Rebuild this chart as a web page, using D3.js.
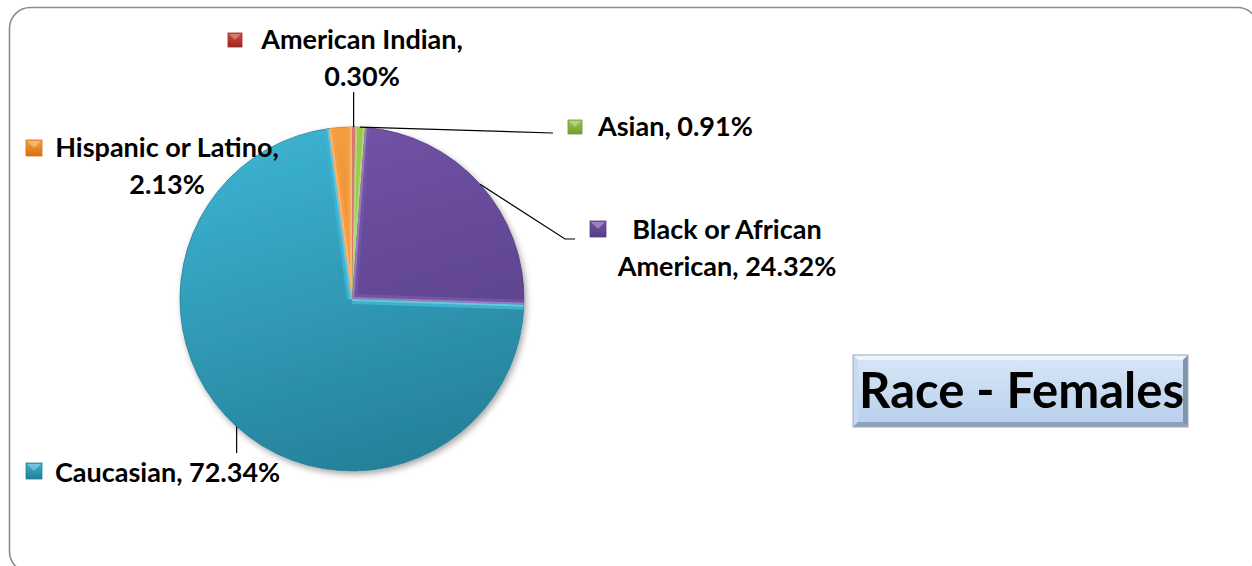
<!DOCTYPE html>
<html>
<head>
<meta charset="utf-8">
<script src="https://cdn.jsdelivr.net/npm/d3@7"></script>
<style>
	body { margin: 0; background: #fff; }
	svg { display: block; }
	.lbl { font-family: "Lato", "Liberation Sans", sans-serif; font-weight: bold; font-size: 27px; fill: #000; }
	.ttl { font-family: "Lato", "Liberation Sans", sans-serif; font-weight: bold; font-size: 49px; fill: #000; }
</style>
</head>
<body>
<svg id="pieChart"></svg>
<script>
// chart values, clockwise from 12 o'clock
const categories = ["American Indian", "Asian", "Black or African American", "Caucasian", "Hispanic or Latino"];
const shares = [0.30, 0.91, 24.32, 72.34, 2.13];
// light / dark shade of each slice
const colorsLight = ["#d04840", "#9cc84e", "#7253a6", "#3bb2d0", "#f59f42"];
const colorsDark = ["#9e2822", "#759c32", "#553c84", "#257f98", "#d87012"];
const titleText = "Race - Females";

function whenDocumentLoaded(action) {
	if (document.readyState === "loading") {
		document.addEventListener("DOMContentLoaded", action);
	} else {
		action();
	}
}

whenDocumentLoaded(() => {
	const width = 1252, height = 566;
	const cx = 352, cy = 299, r = 172;

	const svg = d3.select("#pieChart")
		.attr("width", width)
		.attr("height", height);

	const defs = svg.append("defs");
	defs.append("filter").attr("id", "shadow")
		.attr("x", "-20%").attr("y", "-20%").attr("width", "140%").attr("height", "140%")
		.append("feDropShadow")
		.attr("dx", 2).attr("dy", 3).attr("stdDeviation", 3)
		.attr("flood-color", "#000").attr("flood-opacity", 0.35);

	categories.forEach((c, i) => {
		// gradient in the pie group's own coordinates (centred on 0,0)
		const g = defs.append("linearGradient").attr("id", "grad" + i)
			.attr("gradientUnits", "userSpaceOnUse")
			.attr("x1", -r * 0.3).attr("y1", -r).attr("x2", r * 0.3).attr("y2", r);
		g.append("stop").attr("offset", "0%").attr("stop-color", colorsLight[i]);
		g.append("stop").attr("offset", "100%").attr("stop-color", colorsDark[i]);
		const m = defs.append("linearGradient").attr("id", "mgrad" + i)
			.attr("x1", 0).attr("y1", 0).attr("x2", 0).attr("y2", 1);
		m.append("stop").attr("offset", "0%").attr("stop-color", colorsLight[i]);
		m.append("stop").attr("offset", "100%").attr("stop-color", colorsDark[i]);
	});

	// outer rounded frame
	svg.append("rect")
		.attr("x", 9.5).attr("y", 7.5)
		.attr("width", 1249).attr("height", 565)
		.attr("rx", 21).attr("ry", 21)
		.attr("fill", "#fff")
		.attr("stroke", "#8c8c8c")
		.attr("stroke-width", 1.6);

	const pie = d3.pie().sort(null).value(d => d)(shares);
	const arc = d3.arc().innerRadius(0).outerRadius(r);

	const pieG = svg.append("g")
		.attr("transform", `translate(${cx},${cy})`)
		.attr("filter", "url(#shadow)");

	pieG.selectAll("path.slice")
		.data(pie)
		.enter()
		.append("path")
		.attr("class", "slice")
		.attr("d", arc)
		.attr("fill", (d, i) => `url(#grad${i})`)
		.attr("stroke", (d, i) => colorsDark[i])
		.attr("stroke-width", 0.8);

	// bevel highlight along the straight slice edges
	pie.forEach((d, i) => {
		defs.append("clipPath").attr("id", "clip" + i)
			.append("path").attr("d", arc(d));
		const a0 = d.startAngle, a1 = d.endAngle;
		const edge = `M0,0L${r * Math.sin(a0)},${-r * Math.cos(a0)}M0,0L${r * Math.sin(a1)},${-r * Math.cos(a1)}`;
		pieG.append("path")
			.attr("d", edge)
			.attr("clip-path", `url(#clip${i})`)
			.attr("fill", "none")
			.attr("stroke", colorsLight[i])
			.attr("stroke-width", 10);
		pieG.append("path")
			.attr("d", edge)
			.attr("clip-path", `url(#clip${i})`)
			.attr("fill", "none")
			.attr("stroke", "#ffffff")
			.attr("stroke-opacity", 0.25)
			.attr("stroke-width", 4);
	});

	// label layout: marker box, text anchor, line break and leader line bends
	const layout = [
		{ mx: 228, my: 33, ms: 14, tx: 362, ty: 49, anchor: "middle", breakAt: 2, bends: p => [[p[0], 92]] },
		{ mx: 568, my: 120, ms: 14, tx: 598, ty: 136, anchor: "start", breakAt: 0, bends: () => [[553, 133]] },
		{ mx: 590, my: 221, ms: 16, tx: 727, ty: 239, anchor: "middle", breakAt: 3, bends: () => [[565, 239], [575, 239]] },
		{ mx: 26, my: 463, ms: 16, tx: 55, ty: 482, anchor: "start", breakAt: 0, bends: p => [[p[0], 453]] },
		{ mx: 26, my: 140, ms: 16, tx: 167, ty: 157, anchor: "middle", breakAt: 3, bends: null }
	];
	const lineGap = 37;
	const fmt = d3.format(".2f");

	pie.forEach((d, i) => {
		const L = layout[i];
		const mid = (d.startAngle + d.endAngle) / 2;
		const p = [cx + r * Math.sin(mid), cy - r * Math.cos(mid)];

		if (L.bends) {
			svg.append("path")
				.attr("d", d3.line()([p].concat(L.bends(p))))
				.attr("fill", "none")
				.attr("stroke", "#000")
				.attr("stroke-width", 1.2);
		}

		// marker
		svg.append("rect")
			.attr("x", L.mx).attr("y", L.my)
			.attr("width", L.ms).attr("height", L.ms)
			.attr("fill", `url(#mgrad${i})`)
			.attr("stroke", colorsDark[i]).attr("stroke-width", 0.8);
		svg.append("path")
			.attr("d", `M${L.mx + 1},${L.my + 1}L${L.mx + L.ms - 1},${L.my + 1}L${L.mx + L.ms / 2},${L.my + L.ms * 0.5}Z`)
			.attr("fill", "#fff").attr("fill-opacity", 0.3);

		const words = `${categories[i]}, ${fmt(d.data)}%`.split(" ");
		const lines = L.breakAt ? [words.slice(0, L.breakAt).join(" "), words.slice(L.breakAt).join(" ")] : [words.join(" ")];
		const t = svg.append("text")
			.attr("class", "lbl")
			.attr("text-anchor", L.anchor);
		lines.forEach((s, k) => {
			t.append("tspan").attr("x", L.tx).attr("y", L.ty + k * lineGap).text(s);
		});
	});

	// title box with bevel
	const bx = 853, by = 355, bw = 335, bh = 72, bev = 5;
	const tg = defs.append("linearGradient").attr("id", "titleGrad")
		.attr("x1", 0).attr("y1", 0).attr("x2", 0).attr("y2", 1);
	tg.append("stop").attr("offset", "0%").attr("stop-color", "#d9e7f7");
	tg.append("stop").attr("offset", "100%").attr("stop-color", "#b7cfec");
	const title = svg.append("g");
	title.append("rect")
		.attr("x", bx).attr("y", by).attr("width", bw).attr("height", bh)
		.attr("fill", "url(#titleGrad)");
	title.append("path")
		.attr("d", `M${bx},${by}L${bx + bw},${by}L${bx + bw - bev},${by + bev}L${bx + bev},${by + bev}Z`)
		.attr("fill", "#eef4fb");
	title.append("path")
		.attr("d", `M${bx},${by}L${bx + bev},${by + bev}L${bx + bev},${by + bh - bev}L${bx},${by + bh}Z`)
		.attr("fill", "#c9daef");
	title.append("path")
		.attr("d", `M${bx + bw},${by}L${bx + bw},${by + bh}L${bx + bw - bev},${by + bh - bev}L${bx + bw - bev},${by + bev}Z`)
		.attr("fill", "#7f93aa");
	title.append("path")
		.attr("d", `M${bx},${by + bh}L${bx + bw},${by + bh}L${bx + bw - bev},${by + bh - bev}L${bx + bev},${by + bh - bev}Z`)
		.attr("fill", "#8ea3bb");
	title.append("rect")
		.attr("x", bx).attr("y", by).attr("width", bw).attr("height", bh)
		.attr("fill", "none").attr("stroke", "#9aa9b9").attr("stroke-width", 1);
	title.append("text")
		.attr("class", "ttl")
		.attr("x", bx + bw / 2 + 1).attr("y", 408)
		.attr("text-anchor", "middle")
		.text(titleText);
});
</script>
</body>
</html>
